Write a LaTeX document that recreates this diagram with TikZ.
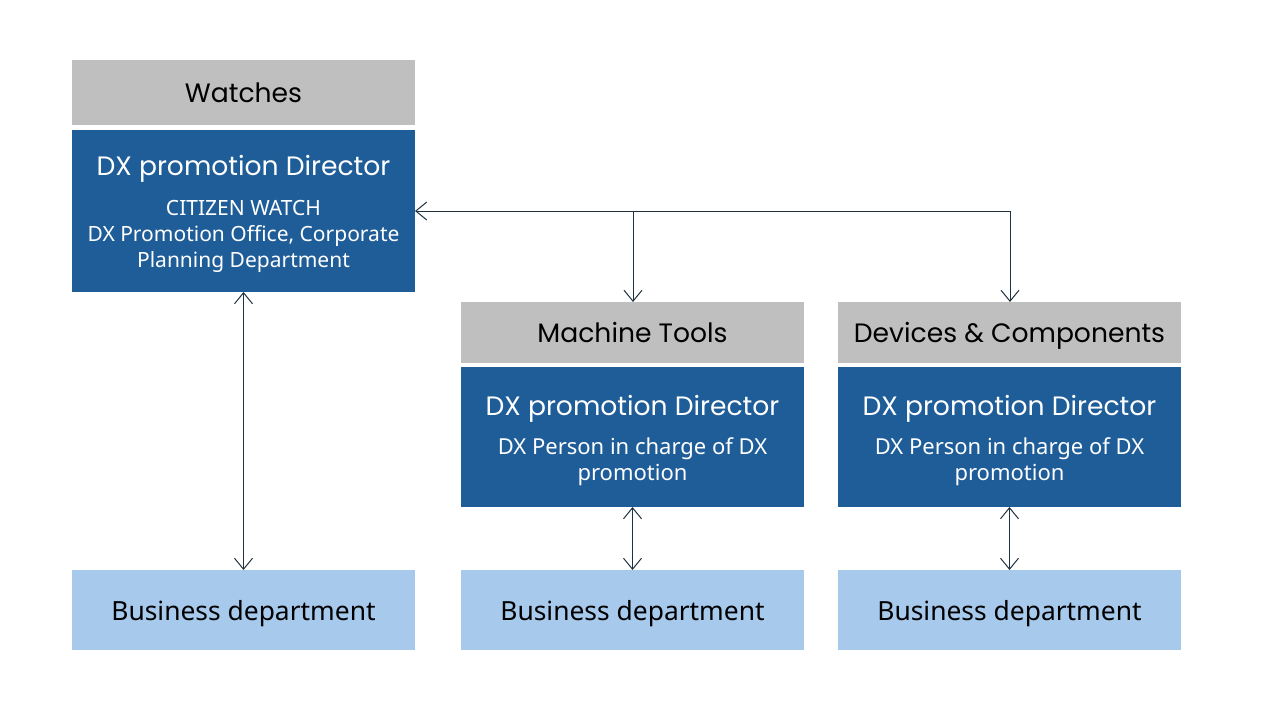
\documentclass[tikz,border=0pt]{standalone}
\usepackage{fontspec}
\setmainfont{Noto Sans}
\newfontfamily\popp{Poppins}
\usetikzlibrary{arrows.meta}
\definecolor{hdrgray}{RGB}{191,191,191}
\definecolor{dirblue}{RGB}{31,93,153}
\definecolor{bizblue}{RGB}{166,201,236}
\definecolor{linecol}{RGB}{30,50,65}
\tikzset{
  box/.style={inner sep=0pt, outer sep=0pt, minimum width=343pt, align=center, anchor=north west},
  hdr/.style={box, fill=hdrgray, font=\popp\fontsize{26.6}{30}\selectfont, text=black, text depth=0pt},
  dir/.style={box, fill=dirblue},
  dirtext/.style={inner sep=0pt, align=center, text=white, font=\fontsize{22}{26}\selectfont},
  biz/.style={box, fill=bizblue, minimum height=80pt, font=\fontsize{26.4}{30}\selectfont, text=black, text depth=0pt},
  conn/.style={draw=linecol, line width=1pt, arrows={Straight Barb[length=11pt,width=18pt,line width=1pt]-Straight Barb[length=11pt,width=18pt,line width=1pt]}},
  conn1/.style={draw=linecol, line width=1pt, -{Straight Barb[length=11pt,width=18pt,line width=1pt]}},
}
\newcommand{\dirtitle}{{\popp\fontsize{26.6}{30}\selectfont DX promotion Director}}
\begin{document}
\begin{tikzpicture}[x=1pt,y=-1pt]
\useasboundingbox (0,0) rectangle (1280,720);
% Watches column
\node[hdr, minimum height=65pt] (wh) at (72,60) {Watches};
\node[dir, minimum height=162pt] (wd) at (72,130) {};
\node[dirtext, font=\fontsize{21}{26}\selectfont, yshift=-2.5pt] (wdt) at (wd.center) {\dirtitle\\[14pt]CITIZEN WATCH\\DX Promotion Office, Corporate\\Planning Department};
\node[biz] (wb) at (72,570) {Business department};
% Machine tools column
\node[hdr, minimum height=61pt] (mh) at (461,302) {Machine Tools};
\node[dir, minimum height=140pt] (md) at (461,367) {};
\node[dirtext, yshift=-3.5pt] (mdt) at (md.center) {\dirtitle\\[13pt]DX Person in charge of DX\\promotion};
\node[biz] (mb) at (461,570) {Business department};
% Devices column
\node[hdr, minimum height=61pt] (dh) at (838,302) {Devices \& Components};
\node[dir, minimum height=140pt] (dd) at (838,367) {};
\node[dirtext, yshift=-3.5pt] (ddt) at (dd.center) {\dirtitle\\[13pt]DX Person in charge of DX\\promotion};
\node[biz] (db) at (838,570) {Business department};
% connectors
\coordinate (jm) at (633,211);
\coordinate (jd) at (1010,211);
\draw[linecol, line width=1pt] (jd) -- (jm);
\draw[conn1] (jm) -- (wd.east |- jm);
\draw[conn1] (jm) -- (jm |- mh.north);
\draw[conn1] (jd) -- (jd |- dh.north);
\draw[conn] (wd.south) -- (wb.north);
\draw[conn] (md.south) -- (mb.north);
\draw[conn] (dd.south) -- (db.north);
\end{tikzpicture}
\end{document}
